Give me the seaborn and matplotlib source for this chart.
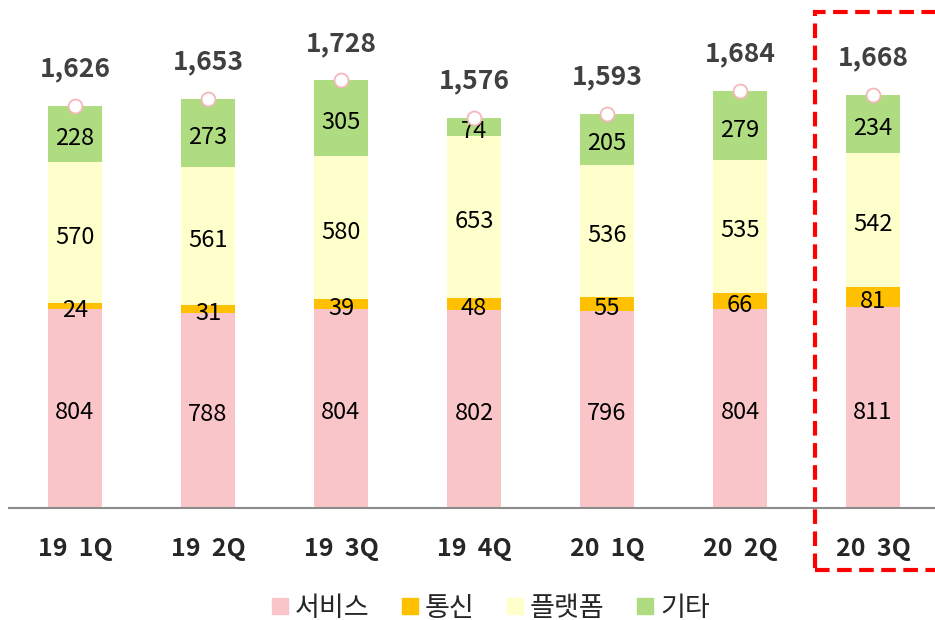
import numpy as np
import pandas as pd
import matplotlib
matplotlib.use('Agg')
from matplotlib import pyplot as plt
from matplotlib.lines import Line2D
from matplotlib.patches import Rectangle
import seaborn as sns

quarters = ['19  1Q', '19  2Q', '19  3Q', '19  4Q', '20  1Q', '20  2Q', '20  3Q']
service = [804, 788, 804, 802, 796, 804, 811]
telecom = [24, 31, 39, 48, 55, 66, 81]
platform = [570, 561, 580, 653, 536, 535, 542]
etc = [228, 273, 305, 74, 205, 279, 234]
totals = [1626, 1653, 1728, 1576, 1593, 1684, 1668]

names = ['서비스', '통신', '플랫폼', '기타']
colors = ['#F9C5C8', '#FFC000', '#FFFFCC', '#AFDC80']

sns.set_theme(style='white')
plt.rcParams['font.family'] = ['Noto Sans CJK KR', 'DejaVu Sans']

df = pd.DataFrame({'quarter': quarters, '서비스': service, '통신': telecom,
                   '플랫폼': platform, '기타': etc})
cum = df[names].cumsum(axis=1)

fig = plt.figure(figsize=(9.35, 6.2), dpi=100)
ax = fig.add_axes([8.5 / 935, 112 / 620, 931 / 935, 508 / 620])

# stack by drawing cumulative bars from top layer down
for name, col in reversed(list(zip(names, colors))):
    sns.barplot(x=df['quarter'], y=cum[name], color=col, width=0.4,
                saturation=1, ax=ax, linewidth=0)

for i in range(len(quarters)):
    bottom = 0
    for name in names:
        v = df[name][i]
        ax.text(i, bottom + v / 2 - 18, str(v), ha='center', va='center',
                fontsize=17, color='black', zorder=5)
        bottom += v
    ax.text(i, totals[i] + 150, f'{totals[i]:,}', ha='center', va='center',
            fontsize=19, fontweight='bold', color='#404040')

ax.plot(range(len(quarters)), totals, 'o', mfc='white', mec='#F4B7BB',
        ms=10, mew=1.3, zorder=6, clip_on=False)

ax.set_xlim(-0.5, 6.5)
ax.set_ylim(0, 2053)
ax.set_xlabel('')
ax.set_ylabel('')
ax.set_yticks([])
for s in ['top', 'left', 'right']:
    ax.spines[s].set_visible(False)
ax.spines['bottom'].set_color('#8C8C8C')
ax.spines['bottom'].set_linewidth(1.5)
ax.tick_params(axis='x', length=0, pad=21, labelsize=18)
for lab in ax.get_xticklabels():
    lab.set_fontweight('bold')

handles = [Line2D([], [], marker='s', ls='', color=c, ms=12) for c in colors]
fig.legend(handles, names, loc='center', bbox_to_anchor=(488 / 935, 12 / 620),
           ncol=4, frameon=False, fontsize=19.5, handletextpad=0.05,
           columnspacing=1.0, handlelength=1.0)

fig.add_artist(Rectangle((815 / 935, 50 / 620), 130 / 935, 558 / 620,
                         transform=fig.transFigure, fill=False, ec='#FF0000',
                         lw=3, ls=(0, (3.5, 1.8)), clip_on=False))

fig.savefig('out.png', dpi=100)
